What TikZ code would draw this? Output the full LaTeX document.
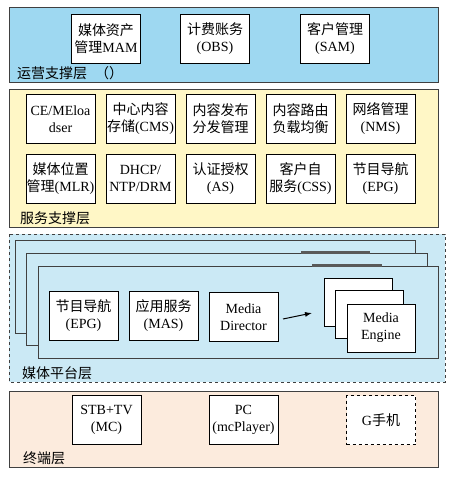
\documentclass[tikz,border=0pt]{standalone}
\usepackage{fontspec}
\setmainfont{Liberation Serif}
\newfontfamily\cjk{Noto Sans CJK SC}
\usetikzlibrary{arrows.meta}
\usepackage{xcolor}
\newcommand{\zh}[1]{{\cjk #1}}
\definecolor{opsblue}{HTML}{9ED8F1}
\definecolor{svcyellow}{HTML}{FFF7C6}
\definecolor{mediablue}{HTML}{CBE9F5}
\definecolor{termpeach}{HTML}{FCEBDD}

\tikzset{
  layer/.style={draw=black!75,line width=0.8pt},
  box/.style={draw,fill=white,line width=1pt,minimum width=69pt,minimum height=49pt,
    align=center,inner sep=0pt},
  lbl/.style={anchor=west,inner sep=0pt},
}

\begin{document}
\begin{tikzpicture}[>=Latex,x=1pt,y=-1pt,font=\fontsize{14}{17}\selectfont]
\useasboundingbox (0,0) rectangle (450,477);
% layers
\draw[layer,fill=opsblue] (9,7) rectangle (438,82);
\draw[layer,fill=svcyellow] (9,89) rectangle (438,227);
\draw[layer,dashed,fill=mediablue] (9,234) rectangle (445,382);
\draw[layer,fill=termpeach] (9,391) rectangle (438,467);

% operation layer
\node[box] (mam) at (106,38.5) {\zh{媒体资产}\\\zh{管理}MAM};
\node[box] (obs) at (215,38.5) {\zh{计费账务}\\(OBS)};
\node[box] (sam) at (335,38.5) {\zh{客户管理}\\(SAM)};
\node[lbl] (opslbl) at (17,73) {\zh{运营支撑层}\hspace{8pt}\zh{（）}};

% service layer
\node[box] (ce) at (60.5,119) {CE/MEloa\\dser};
\node[box] (cms) at (140.5,119) {\zh{中心内容}\\\zh{存储}(CMS)};
\node[box] (dist) at (220.5,119) {\zh{内容发布}\\\zh{分发管理}};
\node[box] (route) at (300.5,119) {\zh{内容路由}\\\zh{负载均衡}};
\node[box] (nms) at (380.5,119) {\zh{网络管理}\\(NMS)};
\node[box] (mlr) at (60.5,178.5) {\zh{媒体位置}\\\zh{管理}(MLR)};
\node[box] (dhcp) at (140.5,178.5) {DHCP/\\NTP/DRM};
\node[box] (as) at (220.5,178.5) {\zh{认证授权}\\(AS)};
\node[box] (css) at (300.5,178.5) {\zh{客户自}\\\zh{服务}(CSS)};
\node[box] (epg) at (380.5,178.5) {\zh{节目导航}\\(EPG)};
\node[lbl] (svclbl) at (20,218) {\zh{服务支撑层}};

% media layer
\draw[layer,fill=mediablue] (15,240) rectangle (415,333);
\draw[layer,fill=mediablue] (26,253) rectangle (427,345);
\draw[line width=2.5pt,black!65] (301,252.5) -- (370,252.5);
\draw[layer,fill=mediablue] (38,266) rectangle (438,358);
\draw[line width=2.5pt,black!65] (312,265.5) -- (382,265.5);
\node[box] (mepg) at (83.5,315.5) {\zh{节目导航}\\(EPG)};
\node[box] (mas) at (163.5,315.5) {\zh{应用服务}\\(MAS)};
\node[box] (md) at (243.5,317) {Media\\Director};
\node[box,minimum width=68pt,minimum height=48pt] (me1) at (358,302) {};
\node[box,minimum width=68pt,minimum height=48pt] (me2) at (369.5,314.5) {};
\node[box,minimum width=68pt,minimum height=48pt] (me3) at (381,328) {Media\\Engine};
\coordinate (arrs) at (283,319);
\coordinate (arre) at (312,313);
\draw[-{Latex[length=7pt,width=5pt]},line width=1pt] (arrs) -- (arre);
\node[lbl] (medlbl) at (22,373) {\zh{媒体平台层}};

% terminal layer
\node[box] (stb) at (106.5,420) {STB+TV\\(MC)};
\node[box] (pc) at (243.5,420) {PC\\(mcPlayer)};
\node[box,dashed,line width=1.2pt] (phone) at (381,420) {G\zh{手机}};
\node[lbl] (termlbl) at (23,458) {\zh{终端层}};
\end{tikzpicture}
\end{document}
